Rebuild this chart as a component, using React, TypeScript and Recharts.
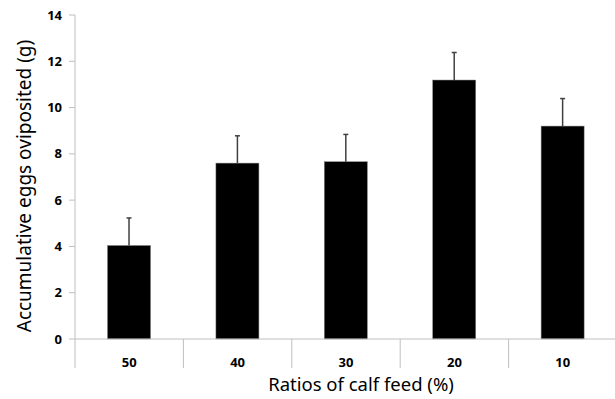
import { BarChart, Bar, XAxis, YAxis } from "recharts";

const RATIOS = ["50", "40", "30", "20", "10"];
const EGGS_G = [4.04, 7.6, 7.66, 11.19, 9.2];
const SE_G = [1.19, 1.18, 1.18, 1.19, 1.19];
const Y_TICKS = [0, 2, 4, 6, 8, 10, 12, 14];

const CHART_W = 618;
const CHART_H = 399;
const MARGIN = { top: 15, right: 1, bottom: 0, left: 0 };
const Y_AXIS_W = 75;
const PLOT_W = CHART_W - MARGIN.left - MARGIN.right - Y_AXIS_W;

const FONT = "'Noto Sans', 'Open Sans', sans-serif";
const AXIS_GRAY = "#bfbfbf";
const ERR_COLOR = "#404040";

const data = RATIOS.map((r, i) => ({ ratio: r, eggs: EGGS_G[i], se: SE_G[i] }));

function CategoryTick({ x, y, payload, index }: { x?: number; y?: number; payload?: { value: string }; index?: number }) {
  if (x == null || y == null || !payload) return null;
  const band = PLOT_W / RATIOS.length;
  const top = y - 8;
  return (
    <g>
      {/* divider on the left of each category, and a closing one after the last */}
      <line x1={x - band / 2} x2={x - band / 2} y1={top} y2={top + 29} stroke={AXIS_GRAY} />
      {index === RATIOS.length - 1 && (
        <line x1={x + band / 2} x2={x + band / 2} y1={top} y2={top + 29} stroke={AXIS_GRAY} />
      )}
      <text x={x} y={top + 28} textAnchor="middle" fontSize={13} fontWeight="bold" fill="#000" fontFamily={FONT}>
        {payload.value}
      </text>
    </g>
  );
}

// bar plus an upward-only error whisker, scaled from the bar's own pixel height
function BarWithError(props: { x?: number; y?: number; width?: number; height?: number; payload?: { eggs: number; se: number } }) {
  const { x = 0, y = 0, width = 0, height = 0, payload } = props;
  if (!payload) return null;
  const pxPerUnit = height / payload.eggs;
  const errTop = y - payload.se * pxPerUnit;
  const cx = x + width / 2;
  return (
    <g>
      <rect x={x} y={y} width={width} height={height} fill="#000" stroke="#7f7f7f" strokeWidth={0.5} />
      <line x1={cx} x2={cx} y1={y} y2={errTop} stroke={ERR_COLOR} strokeWidth={1.5} />
      <line x1={cx - 2.5} x2={cx + 2.5} y1={errTop} y2={errTop} stroke={ERR_COLOR} strokeWidth={1.5} />
    </g>
  );
}

export default function App() {
  return (
    <div style={{ position: "absolute", left: 0, top: 0, width: 615, height: 399, overflow: "hidden", background: "#fff" }}>
      <BarChart width={CHART_W} height={CHART_H} data={data} margin={MARGIN} barCategoryGap="30%">
        <XAxis
          dataKey="ratio"
          height={60}
          axisLine={{ stroke: AXIS_GRAY }}
          tickLine={false}
          tick={<CategoryTick />}
          interval={0}
          label={{
            value: "Ratios of calf feed (%)",
            position: "insideBottom",
            offset: 8,
            dx: 15,
            style: { fontSize: 18.5, fill: "#000", fontFamily: FONT },
          }}
        />
        <YAxis
          width={Y_AXIS_W}
          domain={[0, 14]}
          ticks={Y_TICKS}
          interval={0}
          axisLine={{ stroke: AXIS_GRAY }}
          tickLine={{ stroke: AXIS_GRAY }}
          tickSize={6}
          tickMargin={7}
          tick={{ fontSize: 13, fontWeight: "bold", fill: "#000", fontFamily: FONT }}
          label={{
            value: "Accumulative eggs oviposited (g)",
            angle: -90,
            position: "insideLeft",
            offset: 24,
            dy: 9,
            style: { fontSize: 19, fill: "#000", fontFamily: FONT, textAnchor: "middle" },
          }}
        />
        <Bar dataKey="eggs" fill="#000" shape={<BarWithError />} isAnimationActive={false} />
      </BarChart>
    </div>
  );
}
